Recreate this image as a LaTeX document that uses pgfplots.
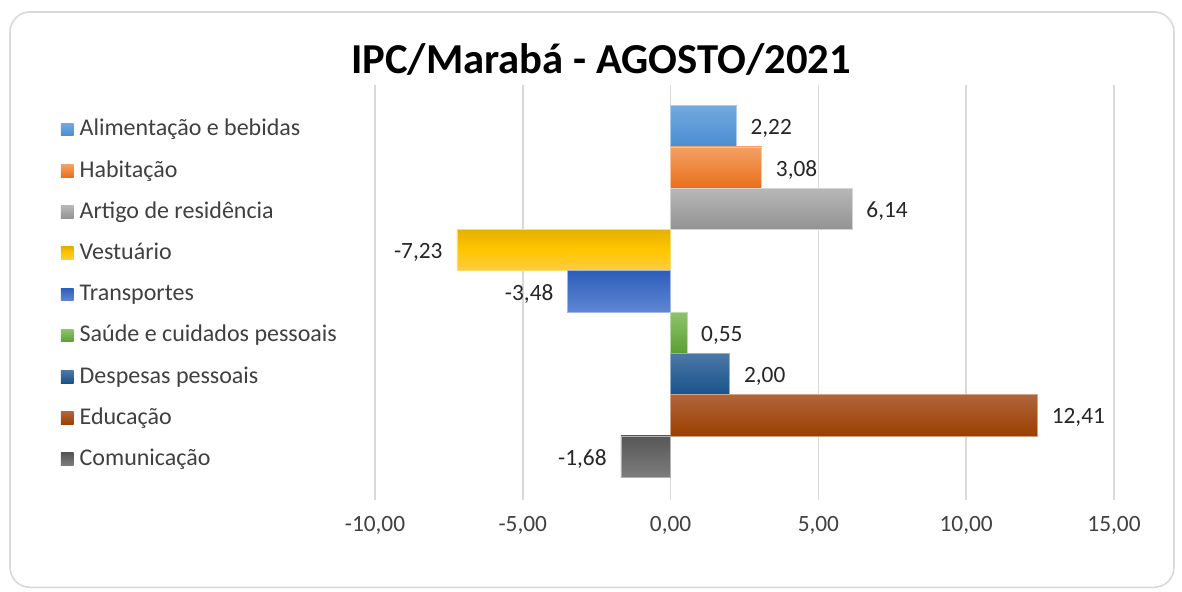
\documentclass[border=0pt]{standalone}
\usepackage{fontspec}
\setmainfont{Carlito}
\usepackage{pgfplots}
\pgfplotsset{compat=1.18}
\definecolor{gridc}{HTML}{D9D9D9}
\definecolor{framec}{HTML}{D9D9D9}
\definecolor{labc}{HTML}{262626}
\definecolor{legc}{HTML}{404040}
\definecolor{alT}{HTML}{72A9DF}\definecolor{alB}{HTML}{4A8DD0}
\definecolor{haT}{HTML}{F4A064}\definecolor{haB}{HTML}{E96F1C}
\definecolor{arT}{HTML}{B7B7B7}\definecolor{arB}{HTML}{939393}
\definecolor{veT}{HTML}{E6B000}\definecolor{veM}{HTML}{FFC700}\definecolor{veB}{HTML}{FFCC45}
\definecolor{trT}{HTML}{2E5EBB}\definecolor{trB}{HTML}{5E87D3}
\definecolor{saT}{HTML}{8DC46C}\definecolor{saB}{HTML}{5C9E33}
\definecolor{deT}{HTML}{4C78A6}\definecolor{deB}{HTML}{18528A}
\definecolor{edT}{HTML}{B0653A}\definecolor{edB}{HTML}{9B3F00}
\definecolor{coT}{HTML}{575757}\definecolor{coB}{HTML}{7D7D7D}
\begin{document}
\begin{tikzpicture}
\useasboundingbox (0,0) rectangle (886.5pt,444pt);
\fill[white] (0,0) rectangle (886.5pt,444pt);
\draw[framec, line width=1.2pt, rounded corners=15pt] (7.5pt,3.5pt) rectangle (880.5pt,435pt);
\node[font=\fontsize{32}{38}\selectfont\bfseries, text=black] at (450.75pt,399pt) {IPC/Marabá - AGOSTO/2021};
\begin{axis}[
  at={(281.25pt,69pt)}, anchor=south west,
  scale only axis, width=554.25pt, height=311.25pt,
  xmin=-10, xmax=15, ymin=-0.05, ymax=10,
  axis line style={draw=none}, tick style={draw=none},
  xtick={-10,-5,0,5,10,15}, ytick=\empty,
  xmajorgrids, grid style={gridc, line width=1.1pt},
  tick label style={font=\fontsize{17.5}{21}\selectfont, text=legc},
  xticklabel style={anchor=north, yshift=-9pt},
  /pgf/number format/fixed, /pgf/number format/fixed zerofill,
  /pgf/number format/precision=2, /pgf/number format/use comma,
  /pgf/number format/assume math mode=true,
  every axis plot/.append style={xbar, bar width=1, bar shift=0pt, line width=0.5pt},
  point meta=x,
  nodes near coords={\pgfmathprintnumber[fixed,fixed zerofill,precision=2,use comma,assume math mode=true]{\pgfplotspointmeta}},
  nodes near coords align=horizontal,
  every node near coord/.append style={font=\fontsize{17.5}{21}\selectfont, text=labc, inner xsep=10.5pt, inner ysep=0pt, yshift=-1.8pt},
  legend cell align=left,
  legend style={at={(axis description cs:-0.4249,0.9174)}, anchor=north west,
    draw=none, fill=none, inner sep=0pt, outer sep=0pt, row sep=14.9pt,
    font=\fontsize{18}{21}\selectfont, text=legc,
    nodes={inner sep=0pt, text height=12.5pt, text depth=3.5pt},
    /tikz/every odd column/.append style={column sep=4.5pt}},
  legend image code/.code={\path[#1, draw=none] (0pt,-4.5pt) rectangle (9.5pt,5pt);},
]
\addplot[top color=alT, bottom color=alB, draw=alT!60!white] coordinates {(2.22,9)};
\addplot[top color=haT, bottom color=haB, draw=haT!60!white] coordinates {(3.08,8)};
\addplot[top color=arT, bottom color=arB, draw=arT!60!white] coordinates {(6.14,7)};
\addplot[top color=veT, bottom color=veB, middle color=veM, draw=veM!60!white] coordinates {(-7.23,6)};
\addplot[top color=trT, bottom color=trB, draw=trB!60!white] coordinates {(-3.48,5)};
\addplot[top color=saT, bottom color=saB, draw=saT!60!white] coordinates {(0.55,4)};
\addplot[top color=deT, bottom color=deB, draw=deT!60!white] coordinates {(2.00,3)};
\addplot[top color=edT, bottom color=edB, draw=edT!60!white] coordinates {(12.41,2)};
\addplot[top color=coT, bottom color=coB, draw=coB!60!white] coordinates {(-1.68,1)};
\legend{Alimentação e bebidas, Habitação, Artigo de residência, Vestuário, Transportes, Saúde e cuidados pessoais, Despesas pessoais, Educação, Comunicação}
\end{axis}
\end{tikzpicture}
\end{document}
